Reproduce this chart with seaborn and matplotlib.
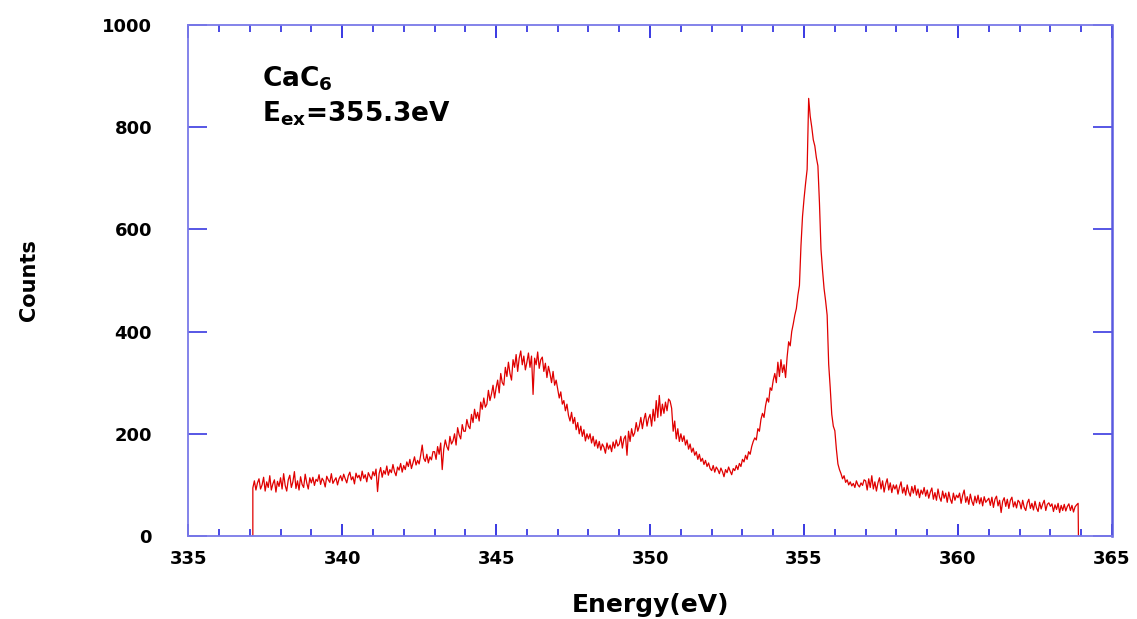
import numpy as np
import pandas as pd
import matplotlib
matplotlib.use("Agg")
import matplotlib.pyplot as plt
import seaborn as sns
from matplotlib.ticker import MultipleLocator

# ---------------- data ----------------
energy_start = 337.10   # eV, first sample
energy_step = 0.05      # eV between samples
counts = [
    # 337.10 - 337.95
    94, 108, 90, 104, 112, 92, 100, 115, 88, 106, 95, 118, 90, 102, 110, 86, 107, 97,
    # 338
    114, 92, 122, 99, 88, 110, 119, 95, 106, 126, 93, 108, 90, 116, 101, 95, 121, 104, 92, 114,
    # 339
    104, 115, 99, 111, 107, 120, 101, 113, 108, 96, 117, 110, 105, 122, 103, 109, 114, 100, 112, 118,
    # 340
    108, 121, 112, 104, 118, 125, 110, 116, 102, 123, 114, 119, 108, 127, 113, 120, 106, 124, 117, 111,
    # 341
    126, 118, 131, 87, 122, 134, 115, 128, 121, 137, 119, 130, 124, 140, 126, 118, 135, 129, 142, 125,
    # 342
    138, 130, 145, 136, 150, 132, 143, 155, 139, 148, 141, 158, 178, 152, 146, 160, 143, 155, 149, 165,
    # 343
    165, 150, 175, 160, 182, 130, 170, 188, 175, 168, 195, 180, 186, 200, 178, 212, 198, 190, 218, 205,
    # 344
    205, 228, 215, 210, 238, 222, 248, 230, 242, 225, 262, 248, 270, 252, 258, 285, 265, 278, 295, 270,
    # 345
    290, 305, 280, 318, 300, 295, 330, 312, 340, 318, 305, 345, 330, 355, 322, 348, 362, 335, 352, 325,
    # 346
    340, 358, 330, 352, 277, 348, 335, 360, 328, 345, 350, 322, 338, 310, 332, 318, 300, 322, 295, 305,
    # 347
    288, 270, 282, 258, 265, 245, 258, 236, 225, 242, 220, 232, 208, 222, 200, 215, 195, 208, 186, 200,
    # 348
    190, 200, 182, 195, 176, 188, 172, 185, 168, 180, 174, 162, 182, 170, 178, 165, 184, 172, 188, 176,
    # 349
    180, 195, 172, 190, 196, 158, 205, 185, 210, 195, 202, 222, 205, 215, 232, 210, 228, 240, 215, 230,
    # 350
    238, 215, 248, 225, 265, 232, 275, 235, 258, 240, 262, 245, 268, 264, 250, 205, 225, 190, 210, 185,
    # 351
    200, 185, 196, 178, 188, 170, 180, 164, 172, 158, 165, 150, 160, 146, 152, 140, 148, 136, 143, 132,
    # 352
    128, 138, 125, 135, 130, 122, 133, 126, 116, 130, 124, 135, 127, 120, 132, 128, 138, 130, 142, 136,
    # 353
    150, 145, 158, 150, 165, 160, 175, 185, 192, 188, 210, 205, 228, 240, 232, 255, 270, 262, 290, 285,
    # 354
    305, 318, 300, 340, 312, 345, 320, 335, 310, 350, 380, 372, 400, 415, 432, 445, 471, 490, 568, 625,
    # 355
    660, 690, 717, 856, 821, 800, 775, 763, 740, 724, 652, 561, 520, 484, 460, 432, 336, 290, 238, 215,
    # 356
    206, 170, 141, 130, 122, 112, 118, 105, 110, 100, 106, 98, 103, 95, 108, 100, 96, 104, 99, 110,
    # 357
    108, 90, 112, 95, 118, 92, 106, 88, 104, 114, 92, 108, 86, 102, 112, 90, 104, 85, 100, 92,
    # 358
    100, 82, 96, 106, 84, 95, 80, 100, 86, 78, 97, 84, 99, 80, 92, 75, 90, 82, 95, 78,
    # 359
    90, 74, 86, 94, 72, 85, 70, 92, 76, 68, 88, 74, 84, 66, 86, 72, 64, 84, 70, 80,
    # 360
    75, 84, 64, 80, 90, 66, 77, 62, 82, 68, 60, 78, 65, 80, 63, 75, 59, 77, 66, 70,
    # 361
    74, 60, 76, 56, 72, 78, 59, 70, 46, 68, 75, 58, 72, 54, 70, 76, 57, 67, 55, 70,
    # 362
    66, 53, 70, 56, 50, 65, 72, 54, 64, 51, 68, 55, 48, 66, 53, 63, 70, 50, 62, 65,
    # 363.00 - 363.90
    58, 63, 48, 61, 52, 64, 46, 60, 50, 62, 49, 58, 63, 50, 60, 47, 57, 61, 64,
]
x_ticks = [335, 340, 345, 350, 355, 360, 365]
y_ticks = [0, 200, 400, 600, 800, 1000]
sample_name = r"$\mathbf{CaC_6}$"
excitation_label = r"$\mathbf{E_{ex}}$" + "=355.3eV"

# ---------------- build the table ----------------
energy = np.round(energy_start + energy_step * np.arange(len(counts)), 3)
# spectrum rises from zero at the first channel and falls back to zero at the last
ex = np.concatenate([[energy[0]], energy, [energy[-1] + 0.01]])
ey = np.concatenate([[0], counts, [0]])
df = pd.DataFrame({"Energy": ex, "Counts": ey})

# ---------------- plot ----------------
sns.set_theme(style="white")
plt.rcParams["font.family"] = ["DejaVu Sans"]
plt.rcParams["mathtext.fontset"] = "dejavusans"
plt.rcParams["text.color"] = "black"
plt.rcParams["axes.labelcolor"] = "black"
plt.rcParams["xtick.labelcolor"] = "black"
plt.rcParams["ytick.labelcolor"] = "black"

fig = plt.figure(figsize=(11.37, 6.19), dpi=100)
ax = fig.add_axes([0.1655, 0.134, 0.8125, 0.826])

sns.lineplot(data=df, x="Energy", y="Counts", sort=False, estimator=None,
             color="#e00000", linewidth=0.9, ax=ax)

ax.set_xlim(335, 365)
ax.set_ylim(0, 1000)
ax.set_xticks(x_ticks)
ax.set_yticks(y_ticks)
ax.xaxis.set_minor_locator(MultipleLocator(1))

spine_col = "#7a7ae8"
for s in ax.spines.values():
    s.set_color(spine_col)
    s.set_linewidth(1.3)
ax.spines["right"].set_color("#5a5ae0")
ax.spines["right"].set_linewidth(1.8)

ax.tick_params(axis="x", which="major", direction="in", length=9, width=1.3,
               color="#2a2ae0", top=True, bottom=True, pad=10,
               labelsize=13, labelcolor="black")
ax.tick_params(axis="x", which="minor", direction="in", length=5, width=1.2,
               color="#2a2ae0", top=True, bottom=True)
ax.tick_params(axis="y", which="major", direction="in", length=14, width=1.2,
               color="#3a3ae0", left=True, right=True, pad=26, labelsize=13,
               labelcolor="black")
for lab in ax.get_xticklabels() + ax.get_yticklabels():
    lab.set_fontweight("bold")

ax.set_xlabel("Energy(eV)", fontsize=18, fontweight="bold", color="black")
ax.xaxis.set_label_coords(0.5, -0.112)
ax.set_ylabel("Counts", fontsize=15, fontweight="bold", color="black")
ax.yaxis.set_label_coords(-0.161, 0.5)

ax.text(0.08, 0.895, sample_name, transform=ax.transAxes, fontsize=19,
        ha="left", va="center", color="black")
ax.text(0.08, 0.825, excitation_label, transform=ax.transAxes, fontsize=19,
        ha="left", va="center", fontweight="bold", color="black")

ax.grid(False)
fig.savefig("out.png", dpi=100)
